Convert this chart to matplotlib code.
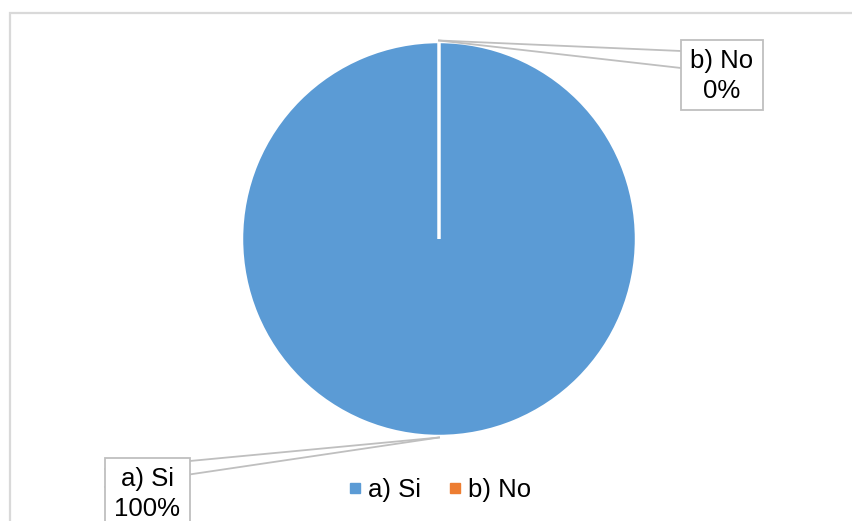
import matplotlib.pyplot as plt
from matplotlib.patches import Rectangle
from matplotlib.lines import Line2D
import numpy as np

plt.rcParams['font.family'] = ['Liberation Sans', 'DejaVu Sans']

labels = ['a) Si', 'b) No']
values = [100, 0]
colors = ['#5B9BD5', '#ED7D31']

W, H = 852, 521
fig = plt.figure(figsize=(W / 100, H / 100), dpi=100)
ax = fig.add_axes([0, 0, 1, 1])


def fy(y):
    # pixel row -> data y
    return H - y


# chart frame
ax.add_patch(Rectangle((9.5, fy(560)), 900, 560 - 12.5, fill=False,
                       edgecolor='#D9D9D9', linewidth=1.6))

cx, cy, r = 439, fy(239), 197.5
wedges, _ = ax.pie(values, colors=colors, startangle=90, counterclock=False,
                   center=(cx, cy), radius=r, frame=True,
                   wedgeprops=dict(edgecolor='white', linewidth=2.5))
ax.set_xlim(0, W)
ax.set_ylim(0, H)
ax.set_aspect('equal')
ax.axis('off')

total = sum(values)
angle = 90.0
anchors = []
for v in values:
    sweep = 360.0 * v / total
    mid = np.deg2rad(angle - sweep / 2)
    anchors.append((cx + (r - 1) * np.cos(mid), cy + (r + 1) * np.sin(mid)))
    angle -= sweep

# callout boxes: (left, top, right, bottom) in pixels, leader attach rows
boxes = [(105, 458, 190, 540, (469, 487)),
         (681, 40, 763, 110, (51, 68))]
line_col = '#BFBFBF'
for lab, v, (ax_x, ax_y), (l, t, rr, b, (y1, y2)) in zip(labels, values, anchors, boxes):
    ax.add_patch(Rectangle((l, fy(b)), rr - l, b - t, facecolor='white',
                           edgecolor=line_col, linewidth=1.3, zorder=4))
    ax.add_line(Line2D([ax_x, l], [ax_y, fy(y1)], color=line_col, lw=1.3, zorder=3))
    ax.add_line(Line2D([ax_x, l], [ax_y, fy(y2)], color=line_col, lw=1.3, zorder=3))
    tx = (l + rr) / 2
    ax.text(tx, fy(t + 21), lab, ha='center', va='center', fontsize=18.5, zorder=5)
    ax.text(tx, fy(t + 51), f'{v}%', ha='center', va='center', fontsize=18.5, zorder=5)

handles = [Line2D([], [], marker='s', linestyle='none', markersize=6.5,
                  markerfacecolor=c, markeredgecolor=c) for c in colors]
ax.legend(handles, labels, loc='center', bbox_to_anchor=(440 / W, 1 - 490 / H),
          ncol=2, frameon=False, fontsize=18.5, handlelength=0.5,
          handletextpad=0.25, columnspacing=1.1)

fig.savefig('out.png', dpi=100)
